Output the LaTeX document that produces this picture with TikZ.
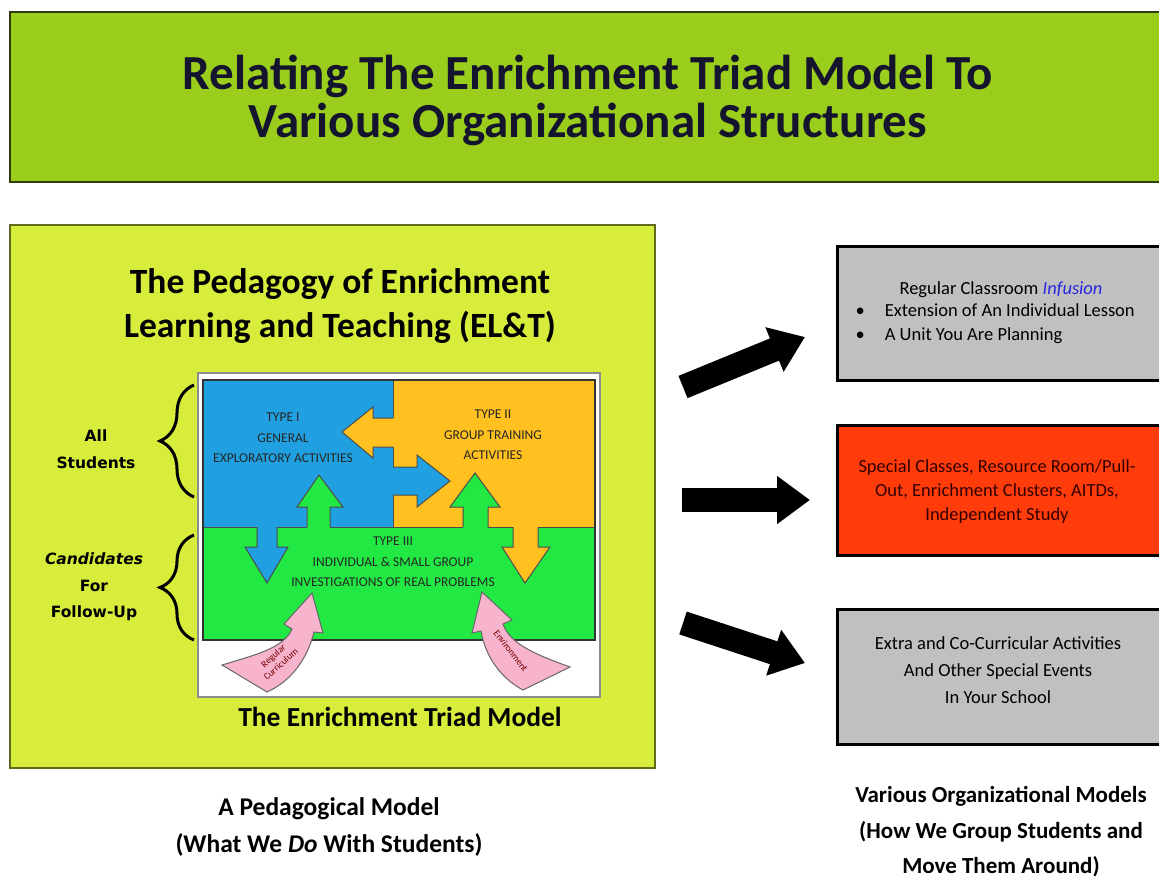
\documentclass[tikz,border=0pt]{standalone}
\usepackage{fontspec}
\setmainfont{Carlito}
\newfontfamily\bracefont{DejaVu Sans}
\usetikzlibrary{arrows.meta, decorations.pathreplacing}
\definecolor{titleGreen}{HTML}{9ACD1C}
\definecolor{panelLime}{HTML}{D8EC3C}
\definecolor{typeBlue}{HTML}{20A0E0}
\definecolor{typeOrange}{HTML}{FFC020}
\definecolor{typeGreen}{HTML}{22E844}
\definecolor{curPink}{HTML}{F7B4CC}
\definecolor{pullRed}{HTML}{FF3C0A}
\definecolor{orgGray}{HTML}{C0C0C0}
\definecolor{infBlue}{HTML}{2626E0}
\definecolor{titleInk}{HTML}{14142E}

\begin{document}
\begin{tikzpicture}[x=1pt, y=-1pt, semithick,
    heading/.style={font=\bfseries\fontsize{49}{48}\selectfont, text=titleInk, align=center},
    typetext/.style={font=\fontsize{13.5}{20.5}\selectfont, text=black!85, align=center},
    arrowline/.style={draw=black!70, line width=1, line join=miter},
    orgbox/.style={draw=black, line width=3, minimum width=327pt, minimum height=134pt},
    boxtext/.style={font=\fontsize{18.5}{24}\selectfont, align=center},
    bracelabel/.style={font=\bracefont\bfseries\fontsize{15.5}{26.5}\selectfont, align=center},
    bigarrow/.style={line width=24pt, -{Triangle[width=46pt,length=33pt]}},
    brace/.style={decorate, decoration={brace, amplitude=34pt}, line width=3},
    pinktext/.style={font=\fontsize{9.5}{11}\selectfont, text=red!45!black, align=center}]

    \useasboundingbox (0,0) rectangle (1159,879) ;
    \fill [white] (0,0) rectangle (1159,879) ;

    % title bar %
    \draw [fill=titleGreen, draw=black!70!titleGreen, line width=2] (10,12) rectangle (1170,182) ;
    \node [heading] at (588,100) (title)
          {Relating The Enrichment Triad Model To\\Various Organizational Structures} ;

    % left panel %
    \draw [fill=panelLime, draw=black!55!panelLime, line width=2] (10,225) rectangle (655,768) ;
    \node [font=\bfseries\fontsize{35.5}{44}\selectfont, align=center] at (340,306) (pedagogy)
          {The Pedagogy of Enrichment\\Learning and Teaching (EL\&T)} ;

    % triad frame and the three regions
    \draw [fill=white, draw=black!45, line width=1.5] (198,373) rectangle (600,697) ;
    \fill [typeBlue] (203,380) rectangle (393,527) ;
    \fill [typeOrange] (393,380) rectangle (595,527) ;
    \fill [typeGreen] (203,527) rectangle (595,640) ;
    \draw [arrowline] (393,380) -- (393,527) (203,527) -- (595,527) ;
    \draw [draw=black!80, line width=1.5] (203,380) rectangle (595,640) ;

    % arrows between the types
    % type II -> type I
    \fill [typeOrange] (397,418) -- (373,418) -- (373,407) -- (342,432) -- (373,458) -- (373,447) -- (397,447) -- cycle ;
    \draw [arrowline] (393,418) -- (373,418) -- (373,407) -- (342,432) -- (373,458) -- (373,447) -- (393,447) ;
    % type I -> type II
    \fill [typeBlue] (389,467) -- (417,467) -- (417,455) -- (450,481) -- (417,507) -- (417,495) -- (389,495) -- cycle ;
    \draw [arrowline] (393,467) -- (417,467) -- (417,455) -- (450,481) -- (417,507) -- (417,495) -- (393,495) ;
    % type III -> type I
    \fill [typeGreen] (307,531) -- (307,507) -- (297,507) -- (319,475) -- (343,507) -- (330,507) -- (330,531) -- cycle ;
    \draw [arrowline] (307,527) -- (307,507) -- (297,507) -- (319,475) -- (343,507) -- (330,507) -- (330,527) ;
    % type I -> type III
    \fill [typeBlue] (257,523) -- (257,547) -- (245,547) -- (267,583) -- (288,547) -- (277,547) -- (277,523) -- cycle ;
    \draw [arrowline] (257,527) -- (257,547) -- (245,547) -- (267,583) -- (288,547) -- (277,547) -- (277,527) ;
    % type III -> type II
    \fill [typeGreen] (463,531) -- (463,507) -- (450,507) -- (475,473) -- (500,507) -- (488,507) -- (488,531) -- cycle ;
    \draw [arrowline] (463,527) -- (463,507) -- (450,507) -- (475,473) -- (500,507) -- (488,507) -- (488,527) ;
    % type II -> type III
    \fill [typeOrange] (513,523) -- (513,547) -- (502,547) -- (525,583) -- (550,547) -- (538,547) -- (538,523) -- cycle ;
    \draw [arrowline] (513,527) -- (513,547) -- (502,547) -- (525,583) -- (550,547) -- (538,547) -- (538,527) ;

    % type labels
    \node [typetext] at (283,438) (type-one) {TYPE I\\GENERAL\\EXPLORATORY ACTIVITIES} ;
    \node [typetext] at (493,435) (type-two) {TYPE II\\GROUP TRAINING\\ACTIVITIES} ;
    \node [typetext] at (393,562) (type-three) {TYPE III\\INDIVIDUAL \& SMALL GROUP\\INVESTIGATIONS OF REAL PROBLEMS} ;

    % pink curved arrows from below
    \draw [fill=curPink, draw=black!60, line width=1, line join=miter]
          (222,665) .. controls (255,655) and (284,648) .. (292,629)
          -- (284,624) -- (312,593) -- (323,633) -- (314,632)
          .. controls (306,664) and (287,683) .. (267,692) -- cycle ;
    \node [pinktext, rotate=42] at (277,660) (curriculum) {Regular\\Curriculum} ;
    \draw [fill=curPink, draw=black!60, line width=1, line join=miter]
          (570,667) .. controls (540,656) and (510,645) .. (503,624)
          -- (512,620) -- (482,592) -- (472,633) -- (481,631)
          .. controls (486,660) and (504,680) .. (523,690) -- cycle ;
    \node [pinktext, rotate=-52] at (511,651) (environment) {Environment} ;

    \node [font=\bfseries\fontsize{27.5}{30}\selectfont] at (400,717) (triad-name)
          {The Enrichment Triad Model} ;

    % braces and who they are for %
    \draw [brace] (194,497) -- (194,385) ;
    \node [bracelabel] at (96,449) (all-students) {All\\Students} ;
    \draw [brace] (194,640) -- (194,535) ;
    \node [bracelabel] at (94,587) (candidates) {\itshape Candidates\\For\\Follow-Up} ;

    % organizational boxes %
    \node [orgbox, fill=orgGray] at (1001,313) (infusion) {} ;
    \node [boxtext] at (1001,290) (infusion-head)
          {Regular Classroom \textcolor{infBlue}{\itshape Infusion}} ;
    \node [boxtext, align=left, anchor=north west] at (852,300) (infusion-list)
          {\textbullet\hspace{20pt}Extension of An Individual Lesson\\
           \textbullet\hspace{20pt}A Unit You Are Planning} ;

    \node [orgbox, fill=pullRed, minimum height=130pt] at (1001,490) (pullout) {} ;
    \node [boxtext, text=red!20!black] at (997,492) (pullout-text)
          {Special Classes, Resource Room/Pull-\\Out, Enrichment Clusters, AITDs,\\Independent Study} ;

    \node [orgbox, fill=orgGray, minimum height=135pt] at (1001,677) (extra) {} ;
    \node [boxtext, font=\fontsize{18.5}{27}\selectfont] at (998,670) (extra-text)
          {Extra and Co-Curricular Activities\\And Other Special Events\\In Your School} ;

    % block arrows to the boxes
    \coordinate (to-infusion-s) at (683,387) ;
    \coordinate (to-infusion-e) at (805,337) ;
    \coordinate (to-pullout-s) at (682,500) ;
    \coordinate (to-pullout-e) at (810,500) ;
    \coordinate (to-extra-s) at (683,623) ;
    \coordinate (to-extra-e) at (805,663) ;
    \draw [bigarrow] (to-infusion-s) -- (to-infusion-e) ;
    \draw [bigarrow] (to-pullout-s) -- (to-pullout-e) ;
    \draw [bigarrow] (to-extra-s) -- (to-extra-e) ;

    % captions underneath %
    \node [font=\bfseries\fontsize{25.5}{37}\selectfont, align=center] at (329,827) (pedagogical)
          {A Pedagogical Model\\(What We \textit{Do} With Students)} ;
    \node [font=\bfseries\fontsize{23}{35.5}\selectfont, align=center] at (1001,832) (organizational)
          {Various Organizational Models\\(How We Group Students and\\Move Them Around)} ;

  \end{tikzpicture}
\end{document}
